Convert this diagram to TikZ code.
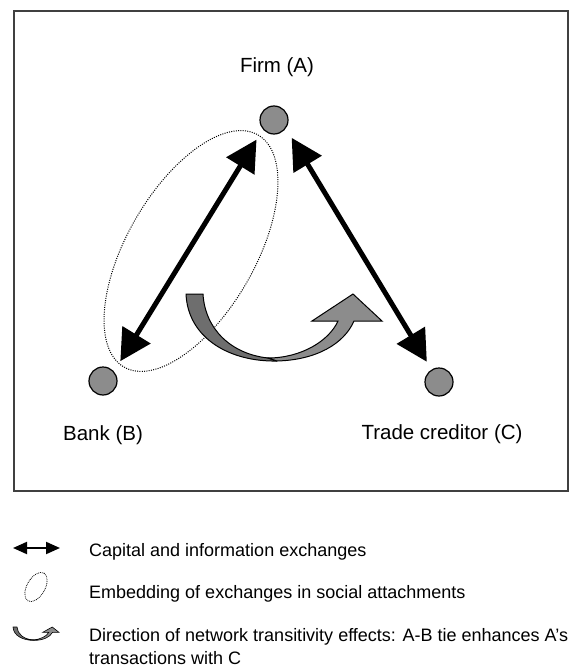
\documentclass[tikz,border=0pt]{standalone}
\usepackage{fontspec}
\setmainfont{Liberation Sans}
\usetikzlibrary{arrows.meta}

\tikzset{
	actor/.style={circle, draw, line width=1.2pt, fill=black!45, minimum size=28pt, inner sep=0pt},
	actorlabel/.style={anchor=base, inner sep=0pt, font=\fontsize{20.5}{24}\selectfont},
	exchange/.style={line width=5pt, {Triangle[length=31pt,width=32pt]}-{Triangle[length=31pt,width=32pt]}},
	embed/.style={line width=1pt, dash pattern=on 1pt off 1.3pt},
	legendtext/.style={anchor=base west, inner sep=0pt, align=left, font=\fontsize{18}{23}\selectfont},
}

% transitivity arrow, origin at the top left corner of its tail
\newcommand{\swoosh}[1]{%
	\filldraw[fill=black!57, line width=#1, line join=round]
		(0,0) -- (17,0) .. controls (19,35) and (45,60) .. (82,64) -- (91,67)
		.. controls (45,68) and (2,45) .. (0,0) -- cycle;
	\filldraw[fill=black!45, line width=#1, line join=miter]
		(82,64) .. controls (115,64) and (143,47) .. (152,27) -- (126,27) -- (167,0)
		-- (196,27) -- (168,27) .. controls (158,50) and (130,66) .. (91,67) -- cycle;
}

\begin{document}
\begin{tikzpicture}[x=1pt, y=-1pt]
	\useasboundingbox (0,0) rectangle (585,668);
	%frame
	\draw[line width=2pt, black!75] (14,11) rectangle (568,491);
	
	%actors
	\node[actor] (A) at (274,120) {};
	\node[actor] (B) at (103,381) {};
	\node[actor] (C) at (439,382) {};
	\node[actorlabel] (Alab) at (277,73) {Firm (A)};
	\node[actorlabel] (Blab) at (103,440) {Bank (B)};
	\node[actorlabel] (Clab) at (442,439.5) {Trade creditor (C)};
	
	%exchanges
	\draw[exchange, shorten <=12pt, shorten >=12pt] (A.220) -- (B.41);
	\draw[exchange, shorten <=11pt, shorten >=9pt] (A.325) -- (C.121);
	
	%embedding
	\coordinate (E) at (191,251);
	\draw[embed, rotate around={60:(E)}] (E) ellipse [x radius=134, y radius=64];
	
	%transitivity
	\begin{scope}[shift={(186,294)}]
		\swoosh{1pt}
	\end{scope}
	
	%legend
	\coordinate (lgL) at (13,548);
	\coordinate (lgR) at (60,548);
	\draw[line width=2pt, {Triangle[length=14pt,width=12pt]}-{Triangle[length=14pt,width=12pt]}] (lgL) -- (lgR);
	\node[legendtext] (lg1) at (89,556) {Capital and information exchanges};
	
	\coordinate (lgE) at (36,587);
	\draw[line width=0.8pt, dash pattern=on 0.8pt off 1pt, rotate around={60:(lgE)}] (lgE) ellipse [x radius=16, y radius=9];
	\node[legendtext] (lg2) at (89,598) {Embedding of exchanges in social attachments};
	
	\begin{scope}[shift={(13,627)}, xscale=0.235, yscale=0.2]
		\swoosh{0.6pt}
	\end{scope}
	\node[legendtext, anchor=north west] (lg3) at (89,628.5) {Direction of network transitivity effects: A-B tie enhances A's\\transactions with C};
\end{tikzpicture}
\end{document}
